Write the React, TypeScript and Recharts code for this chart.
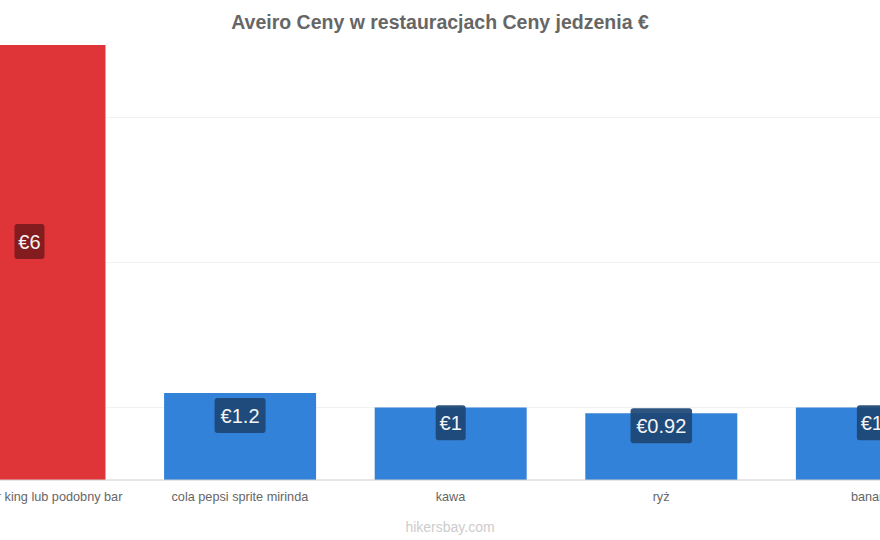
import { BarChart, Bar, XAxis, YAxis, CartesianGrid, Cell, LabelList } from "recharts";

const categories = [
    "Tani Burger king lub podobny bar",
    "cola pepsi sprite mirinda",
    "kawa",
    "ryż",
    "banany",
];

const prices = [6, 1.2, 1, 0.92, 1];

const barColors = ["#e03538", "#3382d9", "#3382d9", "#3382d9", "#3382d9"];
const labelColors = ["#7a1a1c", "#1c4674", "#1c4674", "#1c4674", "#1c4674"];

const gridTicks = [1, 3, 5];

const data = categories.map((name, i) => ({ name, price: prices[i], index: i }));

const PriceLabel = (props: any) => {
    const { x, y, width, height, value, index } = props;
    const text = "€" + value;
    const boxW = text.length * 10.5 + 9;
    const boxH = 35;
    const cx = x + width / 2;
    const cy = y + height / 2 - 21;
    return (
        <g>
            <rect
                x={cx - boxW / 2}
                y={cy - boxH / 2}
                width={boxW}
                height={boxH}
                rx={3}
                fill={labelColors[index]}
                fillOpacity={0.92}
            />
            <text
                x={cx}
                y={cy + 7}
                textAnchor="middle"
                fill="#f4f4f4"
                fontSize={20}
                fontFamily="Liberation Sans, Arial, sans-serif"
            >
                {text}
            </text>
        </g>
    );
};

const App = () => {
    return (
        <div
            style={{
                position: "absolute",
                left: 0,
                top: 0,
                width: 880,
                height: 540,
                overflow: "hidden",
                background: "#fff",
                fontFamily: "Liberation Sans, Arial, sans-serif",
            }}
        >
            <div
                style={{
                    position: "absolute",
                    top: 11,
                    left: 0,
                    width: 880,
                    textAlign: "center",
                    fontSize: 19.5,
                    fontWeight: "bold",
                    color: "#666",
                }}
            >
                Aveiro Ceny w restauracjach Ceny jedzenia €
            </div>

            <div style={{ position: "absolute", top: 0, left: -76 }}>
                <BarChart
                    width={1053}
                    height={540}
                    data={data}
                    margin={{ top: 45, right: 0, left: 0, bottom: 30 }}
                    barCategoryGap="14%"
                >
                    <CartesianGrid vertical={false} stroke="#f2f2f2" horizontalValues={gridTicks} />
                    <YAxis hide domain={[0, 6]} ticks={gridTicks} />
                    <XAxis
                        dataKey="name"
                        height={30}
                        interval={0}
                        tickLine={false}
                        axisLine={{ stroke: "#cccccc" }}
                        tick={{ fill: "#666", fontSize: 12.7 }}
                        tickMargin={6}
                    />
                    <Bar dataKey="price" isAnimationActive={false}>
                        {data.map((d, i) => (
                            <Cell key={d.name} fill={barColors[i]} />
                        ))}
                        <LabelList dataKey="price" content={<PriceLabel />} />
                    </Bar>
                </BarChart>
            </div>

            <div
                style={{
                    position: "absolute",
                    top: 519,
                    left: 0,
                    width: 900,
                    textAlign: "center",
                    fontSize: 14,
                    color: "#cccccc",
                }}
            >
                hikersbay.com
            </div>
        </div>
    );
};

export default App;
